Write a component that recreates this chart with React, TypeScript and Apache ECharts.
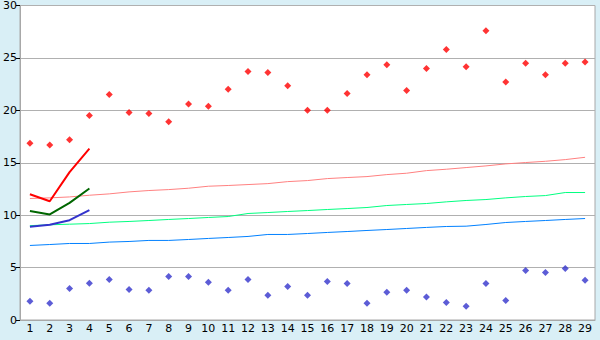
import React, { useEffect, useRef } from "react";
import * as echarts from "echarts";

const categories = ["1","2","3","4","5","6","7","8","9","10","11","12","13","14","15","16","17","18","19","20","21","22","23","24","25","26","27","28","29"];

const redPoints = [16.86, 16.7, 17.2, 19.5, 21.5, 19.8, 19.7, 18.9, 20.6, 20.4, 22.0, 23.7, 23.6, 22.35, 20.0, 20.0, 21.6, 23.4, 24.35, 21.9, 24.0, 25.8, 24.15, 27.6, 22.7, 24.5, 23.4, 24.5, 24.6];
const bluePoints = [1.78, 1.59, 3.0, 3.5, 3.87, 2.92, 2.83, 4.16, 4.16, 3.59, 2.83, 3.87, 2.35, 3.2, 2.35, 3.68, 3.49, 1.59, 2.64, 2.83, 2.19, 1.68, 1.3, 3.49, 1.87, 4.73, 4.54, 4.92, 3.78];

const lightRed = [11.59, 11.65, 11.74, 11.9, 12.03, 12.22, 12.35, 12.44, 12.57, 12.76, 12.83, 12.92, 13.01, 13.2, 13.3, 13.49, 13.59, 13.68, 13.87, 14.0, 14.25, 14.38, 14.54, 14.7, 14.89, 15.02, 15.14, 15.3, 15.52];
const lightGreen = [9.0, 9.08, 9.14, 9.2, 9.33, 9.4, 9.49, 9.59, 9.68, 9.78, 9.87, 10.16, 10.25, 10.35, 10.44, 10.54, 10.63, 10.73, 10.92, 11.02, 11.11, 11.27, 11.4, 11.49, 11.65, 11.78, 11.87, 12.16, 12.16];
const lightBlue = [7.11, 7.2, 7.3, 7.3, 7.43, 7.49, 7.59, 7.59, 7.68, 7.78, 7.87, 7.97, 8.16, 8.16, 8.25, 8.35, 8.44, 8.54, 8.63, 8.73, 8.83, 8.92, 8.95, 9.11, 9.3, 9.4, 9.49, 9.59, 9.68];

const darkRed = [12.0, 11.33, 14.1, 16.35];
const darkGreen = [10.4, 10.07, 11.17, 12.54];
const darkBlue = [8.89, 9.08, 9.52, 10.48];

const yTicks = [0, 5, 10, 15, 20, 25, 30];

export default function App() {
  const ref = useRef<HTMLDivElement>(null);
  useEffect(() => {
    document.body.style.margin = "0";
    const chart = echarts.init(ref.current!, null, { renderer: "svg" });
    const font = "DejaVu Sans";
    const line = (data: number[], color: string, width: number) => ({
      type: "line",
      data,
      symbol: "none",
      lineStyle: { color, width },
      itemStyle: { color },
      z: width > 1 ? 3 : 2,
    });
    const scatter = (data: number[], color: string) => ({
      type: "scatter",
      data,
      symbol: "diamond",
      symbolSize: 7,
      itemStyle: { color },
      z: 4,
    });
    chart.setOption({
      animation: false,
      backgroundColor: "#d9eff6",
      grid: {
        left: 20,
        right: 5,
        top: 5,
        bottom: 20,
        show: true,
        backgroundColor: "#ffffff",
        borderColor: "#a8a8a8",
        borderWidth: 1,
      },
      xAxis: {
        type: "category",
        data: categories,
        boundaryGap: true,
        axisLine: { lineStyle: { color: "#a8a8a8", width: 1 } },
        axisTick: { alignWithLabel: true, length: 5, lineStyle: { color: "#000000" } },
        axisLabel: { color: "#000000", fontFamily: font, fontSize: 11, margin: 3, interval: 0 },
        splitLine: { show: false },
      },
      yAxis: {
        type: "value",
        min: yTicks[0],
        max: yTicks[yTicks.length - 1],
        interval: 5,
        axisLine: { show: true, lineStyle: { color: "#a8a8a8", width: 1 } },
        axisTick: { show: true, length: 4, lineStyle: { color: "#000000" } },
        axisLabel: { color: "#000000", fontFamily: font, fontSize: 11, margin: 3 },
        splitLine: { lineStyle: { color: "#b0b0b0", width: 1 } },
      },
      series: [
        line(lightRed, "#ff8080", 1),
        line(lightGreen, "#00ff80", 1),
        line(lightBlue, "#0080ff", 1),
        line(darkRed, "#ff0000", 2),
        line(darkGreen, "#006600", 2),
        line(darkBlue, "#3333cc", 2),
        scatter(redPoints, "#ff0000"),
        scatter(bluePoints, "#3333cc"),
      ],
    });
    return () => chart.dispose();
  }, []);
  return <div ref={ref} style={{ width: 600, height: 340 }} />;
}
